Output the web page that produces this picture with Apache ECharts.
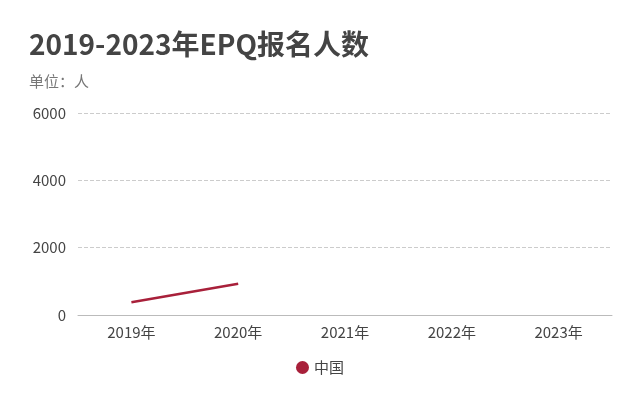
<!DOCTYPE html>
<html><head><meta charset="utf-8">
<script src="https://cdn.jsdelivr.net/npm/echarts@6/dist/echarts.min.js"></script>
<style>html,body{margin:0;padding:0;background:#fff}#c{width:640px;height:414px}</style>
</head><body><div id="c"></div>
<script>
const categories = ['2019年','2020年','2021年','2022年','2023年'];
const chinaValues = [380, 930, null, null, null];
const yTicks = [0, 2000, 4000, 6000];
const chart = echarts.init(document.getElementById('c'));
chart.setOption({
  animation: false,
  title: {text: '2019-2023年EPQ报名人数', subtext: '单位：人', left: 24, top: 25,
    textStyle: {fontSize: 28, fontWeight: 'bold', color: '#444', fontFamily: 'Noto Sans CJK SC'},
    subtextStyle: {fontSize: 15, color: '#777', fontFamily: 'Noto Sans CJK SC'}, itemGap: 16},
  grid: {left: 78, right: 28, top: 113, bottom: 99},
  legend: {bottom: 34, left: 'center', icon: 'circle', itemWidth: 13, itemHeight: 13,
    textStyle: {fontSize: 15, color: '#444', fontFamily: 'Noto Sans CJK SC'}},
  xAxis: {type: 'category', data: categories, boundaryGap: true,
    axisLine: {lineStyle: {color: '#bbb'}}, axisTick: {lineStyle: {color: '#bbb'}},
    axisLabel: {fontSize: 15, color: '#444', margin: 10, fontFamily: 'Noto Sans CJK SC'}},
  yAxis: {type: 'value', min: yTicks[0], max: yTicks[yTicks.length-1], interval: 2000,
    axisLabel: {fontSize: 15, color: '#444', margin: 12, formatter: v => String(v), fontFamily: 'Noto Sans CJK SC'},
    splitLine: {lineStyle: {type: 'dashed', color: '#ccc'}}},
  series: [{name: '中国', type: 'line', data: chinaValues, symbol: 'none',
    itemStyle: {color: '#a8203a'}, lineStyle: {width: 2.5, color: '#a8203a'}}]
});
</script></body></html>
